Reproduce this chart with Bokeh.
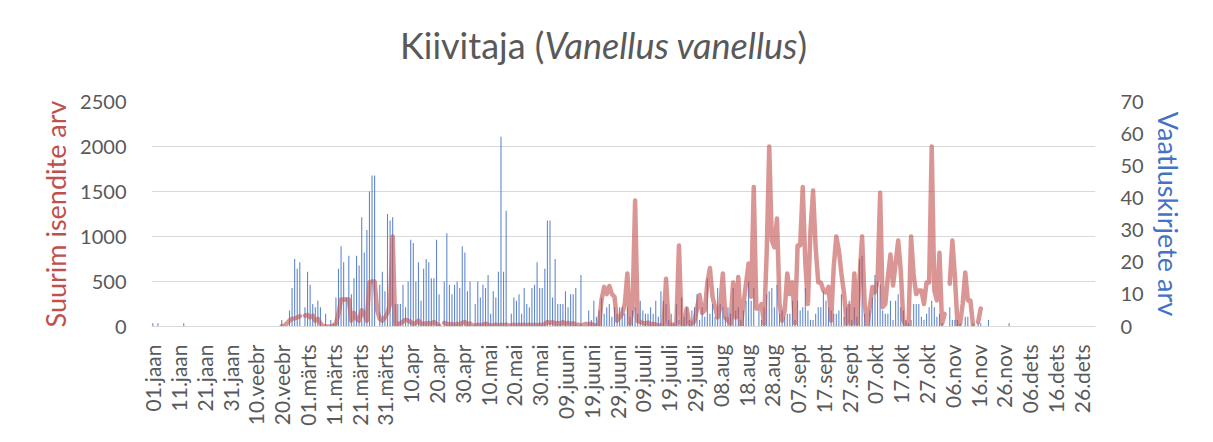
import math
from bokeh.plotting import figure
from bokeh.layouts import column
from bokeh.models import Div, Range1d, LinearAxis, FixedTicker, SingleIntervalTicker, ColumnDataSource
from bokeh.embed import file_html
from bokeh.resources import INLINE

# ---- data (day index 0 = 01.jaan, leap year, 366 days) ----
tick_days = list(range(0, 361, 10))
tick_labels = ["01.jaan", "11.jaan", "21.jaan", "31.jaan", "10.veebr", "20.veebr",
               "01.märts", "11.märts", "21.märts", "31.märts", "10.apr", "20.apr",
               "30.apr", "10.mai", "20.mai", "30.mai", "09.juuni", "19.juuni",
               "29.juuni", "09.juuli", "19.juuli", "29.juuli", "08.aug", "18.aug",
               "28.aug", "07.sept", "17.sept", "27.sept", "07.okt", "17.okt",
               "27.okt", "06.nov", "16.nov", "26.nov", "06.dets", "16.dets", "26.dets"]

# records per day (right axis), winter records
early_record_days = [0, 2, 12]
early_records = [1, 1, 1]

# records per day from day 50 (20.veebr) onwards
records_first_day = 50
records = [
    2, 0, 0, 5, 12, 21, 18, 20, 0, 6,
    17, 13, 7, 6, 8, 6, 0, 4, 0, 2,
    1, 9, 18, 25, 20, 9, 22, 10, 15, 22,
    19, 34, 23, 30, 42, 47, 47, 0, 13, 17,
    11, 35, 33, 34, 7, 7, 7, 13, 6, 14,
    27, 26, 14, 20, 8, 18, 21, 20, 15, 15,
    27, 10, 0, 14, 29, 13, 10, 13, 14, 12,
    25, 23, 11, 14, 0, 7, 14, 9, 13, 12,
    16, 4, 11, 9, 17, 59, 17, 36, 0, 4,
    9, 8, 10, 4, 12, 7, 6, 12, 13, 20,
    12, 12, 18, 33, 33, 9, 21, 7, 7, 7,
    11, 6, 10, 10, 12, 0, 16, 0, 0, 5,
    2, 8, 3, 5, 9, 4, 6, 7, 3, 6,
    4, 6, 6, 4, 6, 3, 5, 6, 4, 8,
    5, 4, 4, 6, 4, 8, 3, 11, 8, 7,
    2, 4, 1, 7, 2, 9, 3, 6, 2, 5,
    6, 10, 2, 6, 3, 15, 4, 7, 3, 12,
    7, 6, 3, 6, 4, 12, 5, 6, 2, 5,
    8, 14, 8, 12, 0, 5, 2, 6, 10, 11,
    12, 6, 13, 4, 5, 3, 4, 4, 8, 2,
    8, 5, 6, 12, 5, 2, 2, 4, 6, 6,
    11, 8, 6, 5, 4, 4, 5, 10, 3, 6,
    8, 2, 6, 3, 21, 22, 4, 0, 5, 9,
    16, 14, 13, 5, 4, 4, 8, 2, 8, 10,
    6, 5, 2, 1, 2, 7, 7, 7, 3, 2,
    4, 6, 8, 6, 3, 4, 1, 0, 0, 6,
    2, 2, 2, 1, 0, 3, 3, 0, 1, 0,
    1, 1, 0, 0, 2, 0, 0, 0, 0, 0,
    0, 0, 1,
]

# largest number of individuals per day (left axis), None = no data
max_first_day = 50
max_individuals = [
    5, 10, 35, 65, 85, 90, 100, 115, None, 120,
    130, 100, 120, 65, 85, 35, 5, 0, 0, 0,
    10, 30, 140, 300, 300, 300, 300, 65, 150, 85,
    65, 180, 140, 65, 490, 500, 500, 180, 85, 65,
    100, 150, 250, 1000, 20, 30, 35, 55, 75, 65,
    50, 30, 40, 65, 30, 35, 30, 40, 30, 50,
    30, 10, None, 40, 30, 20, 30, 10, 30, 20,
    40, 50, 20, 35, 10, 10, 20, 10, 20, 30,
    20, 10, 10, 20, 10, 20, 10, 20, 10, 10,
    20, 10, 20, 10, 20, 10, 20, 10, 20, 10,
    20, 10, 30, 50, 40, 50, 30, 40, 30, 50,
    30, 40, 30, 35, 20, 20, 5, 20, 30, 20,
    30, 10, 10, 10, 300, 440, 360, 450, 360, 330,
    65, 100, 140, 250, 590, 30, 200, 1400, 60, 50,
    40, 30, 45, 20, 30, 20, 10, 10, 10, 530,
    20, 20, 20, 30, 900, 30, 10, 200, 30, 30,
    60, 200, 350, 150, 180, 480, 650, 330, 215, 100,
    215, 590, 100, 65, 30, 490, 100, 550, 5, 250,
    475, 700, 330, 1550, 200, 200, 250, 30, 800, 2000,
    955, 880, 1200, 250, 65, 180, 590, 360, 490, 35,
    900, 900, 1550, 700, 250, 1070, 1510, 880, 490, 490,
    400, 380, 440, 65, 660, 1000, 845, 585, 370, 30,
    230, 30, 590, 30, 530, 1000, 250, 5, 215, 440,
    380, 510, 1485, 215, 250, 550, 800, 455, 700, 955,
    620, 65, 10, 10, 1000, 565, 360, 400, 400, 250,
    490, 490, 2000, 400, 290, 820, 30, 140, None, 475,
    955, 550, 10, 30, 250, 600, 290, 290, 10, None,
    50, 200,
]

# ---- build sources ----
bar_days = early_record_days + [records_first_day + i for i, v in enumerate(records) if v > 0]
bar_vals = early_records + [v for v in records if v > 0]
bar_src = ColumnDataSource(dict(x=bar_days, top=bar_vals))

line_days = [max_first_day + i for i in range(len(max_individuals))]
line_vals = [float("nan") if v is None else v for v in max_individuals]
line_src = ColumnDataSource(dict(x=line_days, y=line_vals))

FONT = "Lato"
GREY = "#595959"
RED = "#C0504D"
BLUE = "#4472C4"

p = figure(width=1197, height=356, output_backend="svg", toolbar_location=None,
           x_range=Range1d(-0.5, 365.5), y_range=Range1d(0, 2500),
           min_border_left=151, min_border_right=102, min_border_top=23,
           min_border_bottom=108)
p.extra_y_ranges = {"right": Range1d(0, 70)}

p.vbar(x="x", top="top", width=0.42, source=bar_src, y_range_name="right",
       fill_color=BLUE, line_color=None, fill_alpha=0.85)
p.line(x="x", y="y", source=line_src, line_color=RED, line_alpha=0.6,
       line_width=4.5, line_join="round", line_cap="round")

p.outline_line_color = None
p.xgrid.visible = False
p.ygrid.grid_line_color = "#D9D9D9"
p.ygrid.grid_line_width = 1

# left axis
la = p.yaxis[0]
la.ticker = SingleIntervalTicker(interval=500)
la.axis_label = "Suurim isendite arv"
la.axis_label_text_color = RED
la.axis_label_text_font = FONT
la.axis_label_text_font_size = "27px"
la.axis_label_text_font_style = "normal"
la.axis_label_standoff = 5
la.major_label_text_font = FONT
la.major_label_text_font_size = "20px"
la.major_label_text_color = GREY
la.major_label_standoff = 19
la.axis_line_color = None
la.major_tick_line_color = None
la.minor_tick_line_color = None

# right axis
ra = LinearAxis(y_range_name="right", ticker=SingleIntervalTicker(interval=10))
ra.axis_label = "Vaatluskirjete arv"
ra.axis_label_text_color = BLUE
ra.axis_label_text_font = FONT
ra.axis_label_text_font_size = "27px"
ra.axis_label_text_font_style = "normal"
ra.axis_label_standoff = 5
ra.major_label_text_font = FONT
ra.major_label_text_font_size = "20px"
ra.major_label_text_color = GREY
ra.major_label_standoff = 19
ra.axis_line_color = None
ra.major_tick_line_color = None
ra.minor_tick_line_color = None
p.add_layout(ra, "right")

# bottom axis
xa = p.xaxis[0]
xa.ticker = FixedTicker(ticks=tick_days)
xa.major_label_overrides = {d: lab for d, lab in zip(tick_days, tick_labels)}
xa.major_label_orientation = math.pi / 2
xa.major_label_text_font = FONT
xa.major_label_text_font_size = "21px"
xa.major_label_text_color = GREY
xa.major_label_standoff = 12
xa.axis_line_color = "#D9D9D9"
xa.axis_line_width = 1
xa.major_tick_line_color = None
xa.minor_tick_line_color = None

title = Div(
    text='<div style="width:1170px;padding-left:27px;padding-top:15px;text-align:center;'
         'font-family:Lato;font-size:36px;color:#595959;white-space:nowrap;">'
         'Kiivitaja (<i>Vanellus vanellus</i>)</div>',
    width=1197, height=68)

layout = column(title, p, spacing=0)
open("out.html", "w").write(file_html(layout, INLINE))
